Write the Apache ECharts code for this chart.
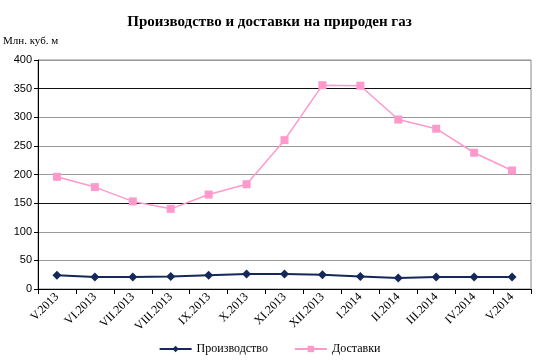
<!DOCTYPE html>
<html><head><meta charset="utf-8">
<script src="https://cdn.jsdelivr.net/npm/echarts@6/dist/echarts.min.js"></script>
<style>html,body{margin:0;padding:0;background:#fff}#c{width:539px;height:364px}</style>
</head><body><div id="c"></div>
<script>
var categories = ['V.2013','VI.2013','VII.2013','VIII.2013','IX.2013','X.2013','XI.2013','XII.2013','I.2014','II.2014','III.2014','IV.2014','V.2014'];
var production = [24, 21, 21, 22, 24, 26, 26, 25, 22, 19, 21, 21, 21];
var deliveries = [196, 178, 153, 140, 165, 183, 260, 356, 355, 296, 280, 238, 207];
var yTicks = [0, 50, 100, 150, 200, 250, 300, 350, 400];

var chart = echarts.init(document.getElementById('c'));
chart.setOption({
  animation: false,
  title: {text: 'Производство и доставки на природен газ', left: 'center', top: 10,
    textStyle: {fontFamily: 'Liberation Serif', fontSize: 15, fontWeight: 'bold', color: '#000'}},
  graphic: [{type: 'text', left: 3, top: 36, style: {text: 'Млн. куб. м', font: '11px "Liberation Serif"', fill: '#000'}}],
  legend: {bottom: 4, left: 'center', itemWidth: 32, itemHeight: 8, itemGap: 26,
    textStyle: {fontFamily: 'Liberation Serif', fontSize: 12, color: '#000'},
    data: ['Производство', 'Доставки']},
  grid: {left: 38, right: 8, top: 60, bottom: 75, show: true, borderColor: '#888', borderWidth: 1},
  xAxis: {type: 'category', data: categories, boundaryGap: true,
    axisLine: {lineStyle: {color: '#000'}},
    axisTick: {show: true, interval: 0, length: 5, lineStyle: {color: '#000'}},
    axisLabel: {interval: 0, rotate: 45, fontFamily: 'Liberation Serif', fontSize: 12, color: '#000', margin: 6}},
  yAxis: {type: 'value', min: 0, max: 400, interval: 50,
    axisLine: {show: true, lineStyle: {color: '#000'}},
    axisTick: {show: true, length: 4, lineStyle: {color: '#000'}},
    axisLabel: {fontFamily: 'Liberation Sans', fontSize: 11, color: '#000', margin: 6,
      formatter: function(v){ return yTicks.indexOf(v) >= 0 ? String(v) : ''; }},
    splitLine: {lineStyle: {color: ['#999', '#999', '#999', '#111'], width: 1}}},
  series: [
    {name: 'Производство', type: 'line', data: production, symbol: 'diamond', symbolSize: 9,
      itemStyle: {color: '#14285A'}, lineStyle: {color: '#14285A', width: 2}},
    {name: 'Доставки', type: 'line', data: deliveries, symbol: 'rect', symbolSize: 8,
      itemStyle: {color: '#FF99CC'}, lineStyle: {color: '#FF99CC', width: 1.5}}
  ]
});
</script></body></html>
